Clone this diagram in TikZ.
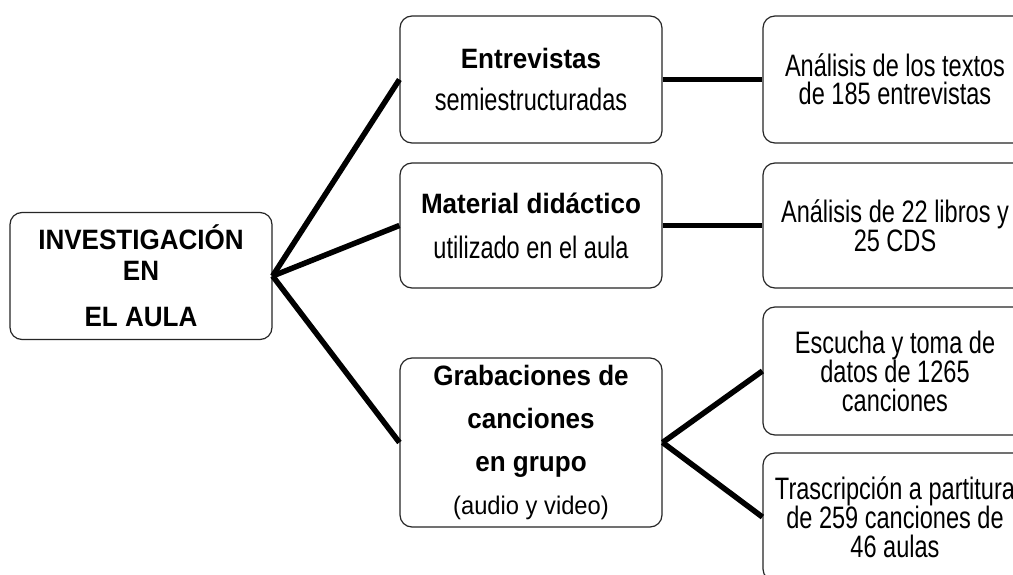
\documentclass[tikz,border=0pt]{standalone}
\usepackage{fontspec}
\setmainfont{Liberation Sans}
\newfontfamily\headfont{Liberation Sans}[FakeStretch=0.93]
\newfontfamily\bodyfont{Liberation Sans}[FakeStretch=0.76]
\tikzset{
	blockbox/.style={draw=black!85, line width=1.2pt, rounded corners=12pt, fill=white, align=center, inner sep=0pt, minimum width=262pt, minimum height=127pt},
	link/.style={line width=5.5pt}
}
\begin{document}
\begin{tikzpicture}[x=1pt, y=-1pt]
		\useasboundingbox (0,0) rectangle (1013,575);
		\fill[white] (0,0) rectangle (1013,575);
		\clip (0,0) rectangle (1013,575);

		% Root
		\node[blockbox, font=\headfont\bfseries\fontsize{28}{31}\selectfont] (aula) at (141,276) {INVESTIGACIÓN\\EN\\[15pt]EL AULA};

		% Branch 1: Entrevistas
		\node[blockbox, font=\fontsize{28}{42}\selectfont] (entrevistas) at (531,79.5) {{\headfont\bfseries Entrevistas}\\{\bodyfont\fontsize{31}{42}\selectfont semiestructuradas}};
		\node[blockbox, minimum width=264pt, font=\bodyfont\fontsize{31}{28}\selectfont] (textos) at (895,79.5) {Análisis de los textos\\de 185 entrevistas};

		% Branch 2: Material didactico
		\node[blockbox, minimum height=125pt, font=\fontsize{28}{45}\selectfont] (material) at (531,225.5) {{\headfont\bfseries Material didáctico}\\{\bodyfont\fontsize{31}{45}\selectfont utilizado en el aula}};
		\node[blockbox, minimum width=264pt, minimum height=125pt, font=\bodyfont\fontsize{31}{29}\selectfont] (libros) at (895,225.5) {Análisis de 22 libros y\\25 CDS};

		% Branch 3: Grabaciones
		\node[blockbox, minimum height=169pt, font=\fontsize{28}{43}\selectfont] (grabaciones) at (531,442.5) {{\headfont\bfseries Grabaciones de}\\{\headfont\bfseries canciones}\\{\headfont\bfseries en grupo}\\{\headfont\fontsize{25.5}{43}\selectfont (audio y video)}};
		\node[blockbox, minimum width=264pt, minimum height=128pt, font=\bodyfont\fontsize{31}{29}\selectfont] (escucha) at (895,371) {Escucha y toma de\\datos de 1265\\canciones};
		\node[blockbox, minimum width=264pt, minimum height=128pt, font=\bodyfont\fontsize{31}{29}\selectfont] (partitura) at (895,517) {Trascripción a partitura\\de 259 canciones de\\46 aulas};

		% Connectors
		\draw[link] (aula.east) -- (entrevistas.west);
		\draw[link] (aula.east) -- (material.west);
		\draw[link] (aula.east) -- (grabaciones.west);
		\draw[link] (entrevistas.east) -- (textos.west);
		\draw[link] (material.east) -- (libros.west);
		\draw[link] (grabaciones.east) -- (escucha.west);
		\draw[link] (grabaciones.east) -- (partitura.west);
	\end{tikzpicture}
\end{document}
